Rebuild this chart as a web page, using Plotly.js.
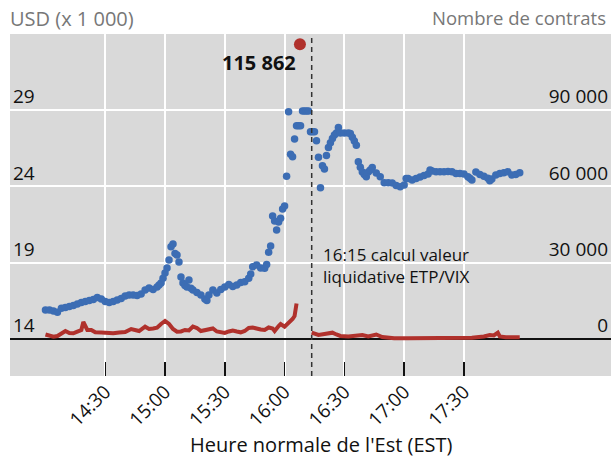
<!DOCTYPE html>
<html>
<head>
<meta charset="utf-8">
<script src="https://cdn.plot.ly/plotly-3.0.1.min.js"></script>
<style>html,body{margin:0;padding:0;background:#fff;}#chart{width:612px;height:461px;}</style>
</head>
<body>
<div id="chart"></div>
<script>
// ---- data ----
const day = "2018-02-05 ";

const priceTimes = ["14:00","14:02","14:04","14:06","14:08","14:10","14:12","14:14","14:16","14:18","14:20","14:22","14:24","14:26","14:28","14:30","14:32","14:34","14:36","14:38","14:40","14:42","14:44","14:46","14:48","14:50","14:52","14:54","14:56","14:57","14:58","14:59","15:00","15:01","15:02","15:03","15:04","15:05","15:06","15:07","15:08","15:09","15:10","15:11","15:12","15:13","15:14","15:16","15:18","15:20","15:21","15:22","15:24","15:26","15:28","15:30","15:32","15:34","15:36","15:38","15:40","15:42","15:43","15:44","15:46","15:48","15:50","15:51","15:52","15:53","15:54","15:55","15:56","15:57","15:58","15:59","16:00","16:01","16:02","16:03","16:04","16:05","16:06","16:07","16:08","16:09","16:10","16:11","16:12","16:13","16:14","16:15","16:16","16:17","16:18","16:19","16:20","16:21","16:22","16:23","16:24","16:25","16:26","16:27","16:28","16:30","16:32","16:33","16:34","16:35","16:36","16:37","16:38","16:39","16:40","16:41","16:42","16:43","16:44","16:46","16:48","16:50","16:52","16:54","16:56","16:58","17:00","17:01","17:02","17:04","17:06","17:08","17:10","17:12","17:13","17:14","17:16","17:18","17:20","17:22","17:24","17:26","17:28","17:30","17:32","17:33","17:34","17:36","17:38","17:40","17:42","17:43","17:44","17:46","17:48","17:50","17:52","17:54","17:56","17:58"];
const priceValues = [15.90,15.90,15.83,15.75,16.01,16.06,16.13,16.19,16.29,16.40,16.46,16.52,16.59,16.72,16.62,16.46,16.40,16.46,16.55,16.65,16.82,16.88,16.88,16.85,16.95,17.21,17.34,17.24,17.41,17.54,17.67,17.98,18.32,18.65,19.17,20.04,20.22,19.61,19.50,19.04,18.06,17.67,17.50,17.41,17.86,17.32,17.21,17.05,16.88,16.62,16.52,16.88,17.21,17.01,17.24,17.41,17.58,17.44,17.54,17.70,17.75,17.98,18.26,18.73,18.85,18.65,18.63,18.89,19.68,20.09,22.06,21.73,21.14,21.66,21.92,22.51,22.71,24.67,28.88,26.10,25.94,27.10,27.97,27.97,27.97,28.93,28.93,28.93,28.93,27.58,27.58,27.58,26.99,25.90,23.91,25.35,25.13,26.03,26.55,26.86,27.14,27.36,27.49,27.86,27.49,27.49,27.49,27.46,27.21,26.97,26.70,25.61,25.26,24.94,24.77,24.63,24.94,25.07,25.24,24.87,24.63,24.24,24.24,24.22,24.05,23.97,24.09,24.52,24.51,24.41,24.52,24.61,24.71,24.81,25.07,25.00,24.96,24.96,24.96,24.97,24.96,24.85,24.84,24.81,24.63,24.54,24.41,24.94,24.77,24.67,24.54,24.37,24.48,24.74,24.85,24.90,24.96,24.74,24.77,24.89];

const volumeTimes = ["14:00","14:02","14:04","14:06","14:08","14:10","14:12","14:14","14:16","14:18","14:19","14:20","14:21","14:23","14:25","14:28","14:31","14:34","14:37","14:40","14:43","14:45","14:47","14:50","14:52","14:54","14:56","14:58","15:00","15:02","15:04","15:06","15:08","15:10","15:12","15:14","15:16","15:18","15:20","15:22","15:24","15:26","15:28","15:30","15:32","15:34","15:36","15:38","15:40","15:42","15:44","15:46","15:48","15:50","15:52","15:54","15:55","15:57","15:58","16:00","16:02","16:03","16:04","16:05","16:05:30","16:06","16:10","16:13:36","16:15","16:17","16:20","16:23","16:24","16:26","16:28","16:32","16:36","16:39","16:42","16:46","16:49","16:55","17:02","17:10","17:18","17:26","17:34","17:40","17:43","17:45","17:47","17:48","17:51","17:55","17:58"];
const volumeValues = [1770,1380,900,1180,1970,3140,2360,2240,2870,3540,6680,5110,3540,3540,2630,2550,2240,2240,2550,2750,3930,3340,3140,4830,3930,4130,4440,5900,7070,5900,3930,2870,2950,3540,3340,4910,4320,3140,3540,3930,4130,2950,2630,2360,2950,3340,2950,2630,3140,4320,4520,3930,3730,3540,4520,4130,3140,5110,5900,4830,6480,6800,7860,9040,12180,13950,null,2550,2160,1570,1970,2160,2480,1770,1180,980,1180,1570,980,1770,790,280,280,390,510,280,470,980,1570,1380,2480,980,670,670,670];

const peakTime = ["16:07:42"];
const peakValue = [115862];
const peakLabel = "115 862";

const navTime = "16:13:36";
const navNote = "16:15 calcul valeur<br>liquidative ETP/VIX";

const xTickTimes = ["14:30","15:00","15:30","16:00","16:30","17:00","17:30"];
const leftTicks = [14, 19, 24, 29];
const rightTicks = [0, 30000, 60000, 90000];
const rightTickText = ["0", "30 000", "60 000", "90 000"];

const leftTitle = "USD (x 1 000)";
const rightTitle = "Nombre de contrats";
const xTitle = "Heure normale de l'Est (EST)";

// ---- chart ----
const d = t => day + t;
const FONT = "Open Sans, Noto Sans, sans-serif";
const BLUE = "#3c6db4";
const RED = "#b0312c";

const traces = [
  {
    x: volumeTimes.map(d), y: volumeValues, yaxis: "y2",
    type: "scatter", mode: "lines", connectgaps: false,
    line: {color: RED, width: 4}, hoverinfo: "skip"
  },
  {
    x: priceTimes.map(d), y: priceValues, yaxis: "y",
    type: "scatter", mode: "markers",
    marker: {color: BLUE, size: 7.5, line: {width: 0}}, hoverinfo: "skip"
  },
  {
    x: peakTime.map(d), y: peakValue, yaxis: "y2",
    type: "scatter", mode: "markers",
    marker: {color: RED, size: 12, line: {width: 0}}, hoverinfo: "skip"
  }
];

const layout = {
  width: 612, height: 461,
  margin: {l: 10, r: 1, t: 34, b: 85, pad: 0},
  paper_bgcolor: "#ffffff",
  plot_bgcolor: "#d9d9d9",
  showlegend: false,
  font: {family: FONT, color: "#111"},
  xaxis: {
    type: "date",
    range: [d("13:42:12"), d("18:43:48")],
    tickvals: xTickTimes.map(d), ticktext: xTickTimes,
    tickangle: -45,
    ticks: "inside", ticklen: 14, tickwidth: 1.5, tickcolor: "#111",
    showgrid: true, gridcolor: "#ffffff", gridwidth: 2,
    zeroline: false, showline: false,
    tickfont: {family: FONT, size: 19, color: "#111"}
  },
  yaxis: {
    range: [11.58, 33.98],
    tickvals: leftTicks,
    ticklabelposition: "inside top",
    ticks: "",
    showgrid: true, gridcolor: "#ffffff", gridwidth: 2,
    zeroline: false, showline: false,
    tickfont: {family: FONT, size: 19, color: "#111"}
  },
  yaxis2: {
    overlaying: "y", side: "right",
    range: [-14543, 119870],
    tickvals: rightTicks, ticktext: rightTickText,
    ticklabelposition: "inside top",
    ticks: "",
    showgrid: false,
    zeroline: true, zerolinecolor: "#111", zerolinewidth: 2,
    showline: false,
    tickfont: {family: FONT, size: 19, color: "#111"}
  },
  shapes: [
    {type: "line", xref: "x", yref: "paper", x0: d(navTime), x1: d(navTime), y0: 0, y1: 1,
     line: {color: "#333", width: 1.5, dash: "5px,4px"}, layer: "above"}
  ],
  annotations: [
    {text: leftTitle, xref: "paper", yref: "paper", x: -0.003, y: 1.045, xanchor: "left", yanchor: "middle",
     showarrow: false, font: {family: FONT, size: 20, color: "#777"}},
    {text: rightTitle, xref: "paper", yref: "paper", x: 0.995, y: 1.048, xanchor: "right", yanchor: "middle",
     showarrow: false, font: {family: FONT, size: 18.5, color: "#777"}},
    {text: xTitle, xref: "paper", yref: "paper", x: 0.5175, y: -0.199, xanchor: "center", yanchor: "middle",
     showarrow: false, font: {family: FONT, size: 20, color: "#111"}},
    {text: navNote, xref: "x", yref: "paper", x: d(navTime), xshift: 9, y: 0.394, xanchor: "left", yanchor: "top",
     align: "left", showarrow: false, font: {family: FONT, size: 17, color: "#111"}},
    {text: "<b>" + peakLabel + "</b>", xref: "x", yref: "y2", x: d(peakTime[0]), y: peakValue[0],
     xanchor: "right", yanchor: "middle", xshift: -2, yshift: -18,
     showarrow: false, font: {family: FONT, size: 20, color: "#111"}}
  ]
};

Plotly.newPlot("chart", traces, layout, {staticPlot: true, displayModeBar: false});
</script>
</body>
</html>
